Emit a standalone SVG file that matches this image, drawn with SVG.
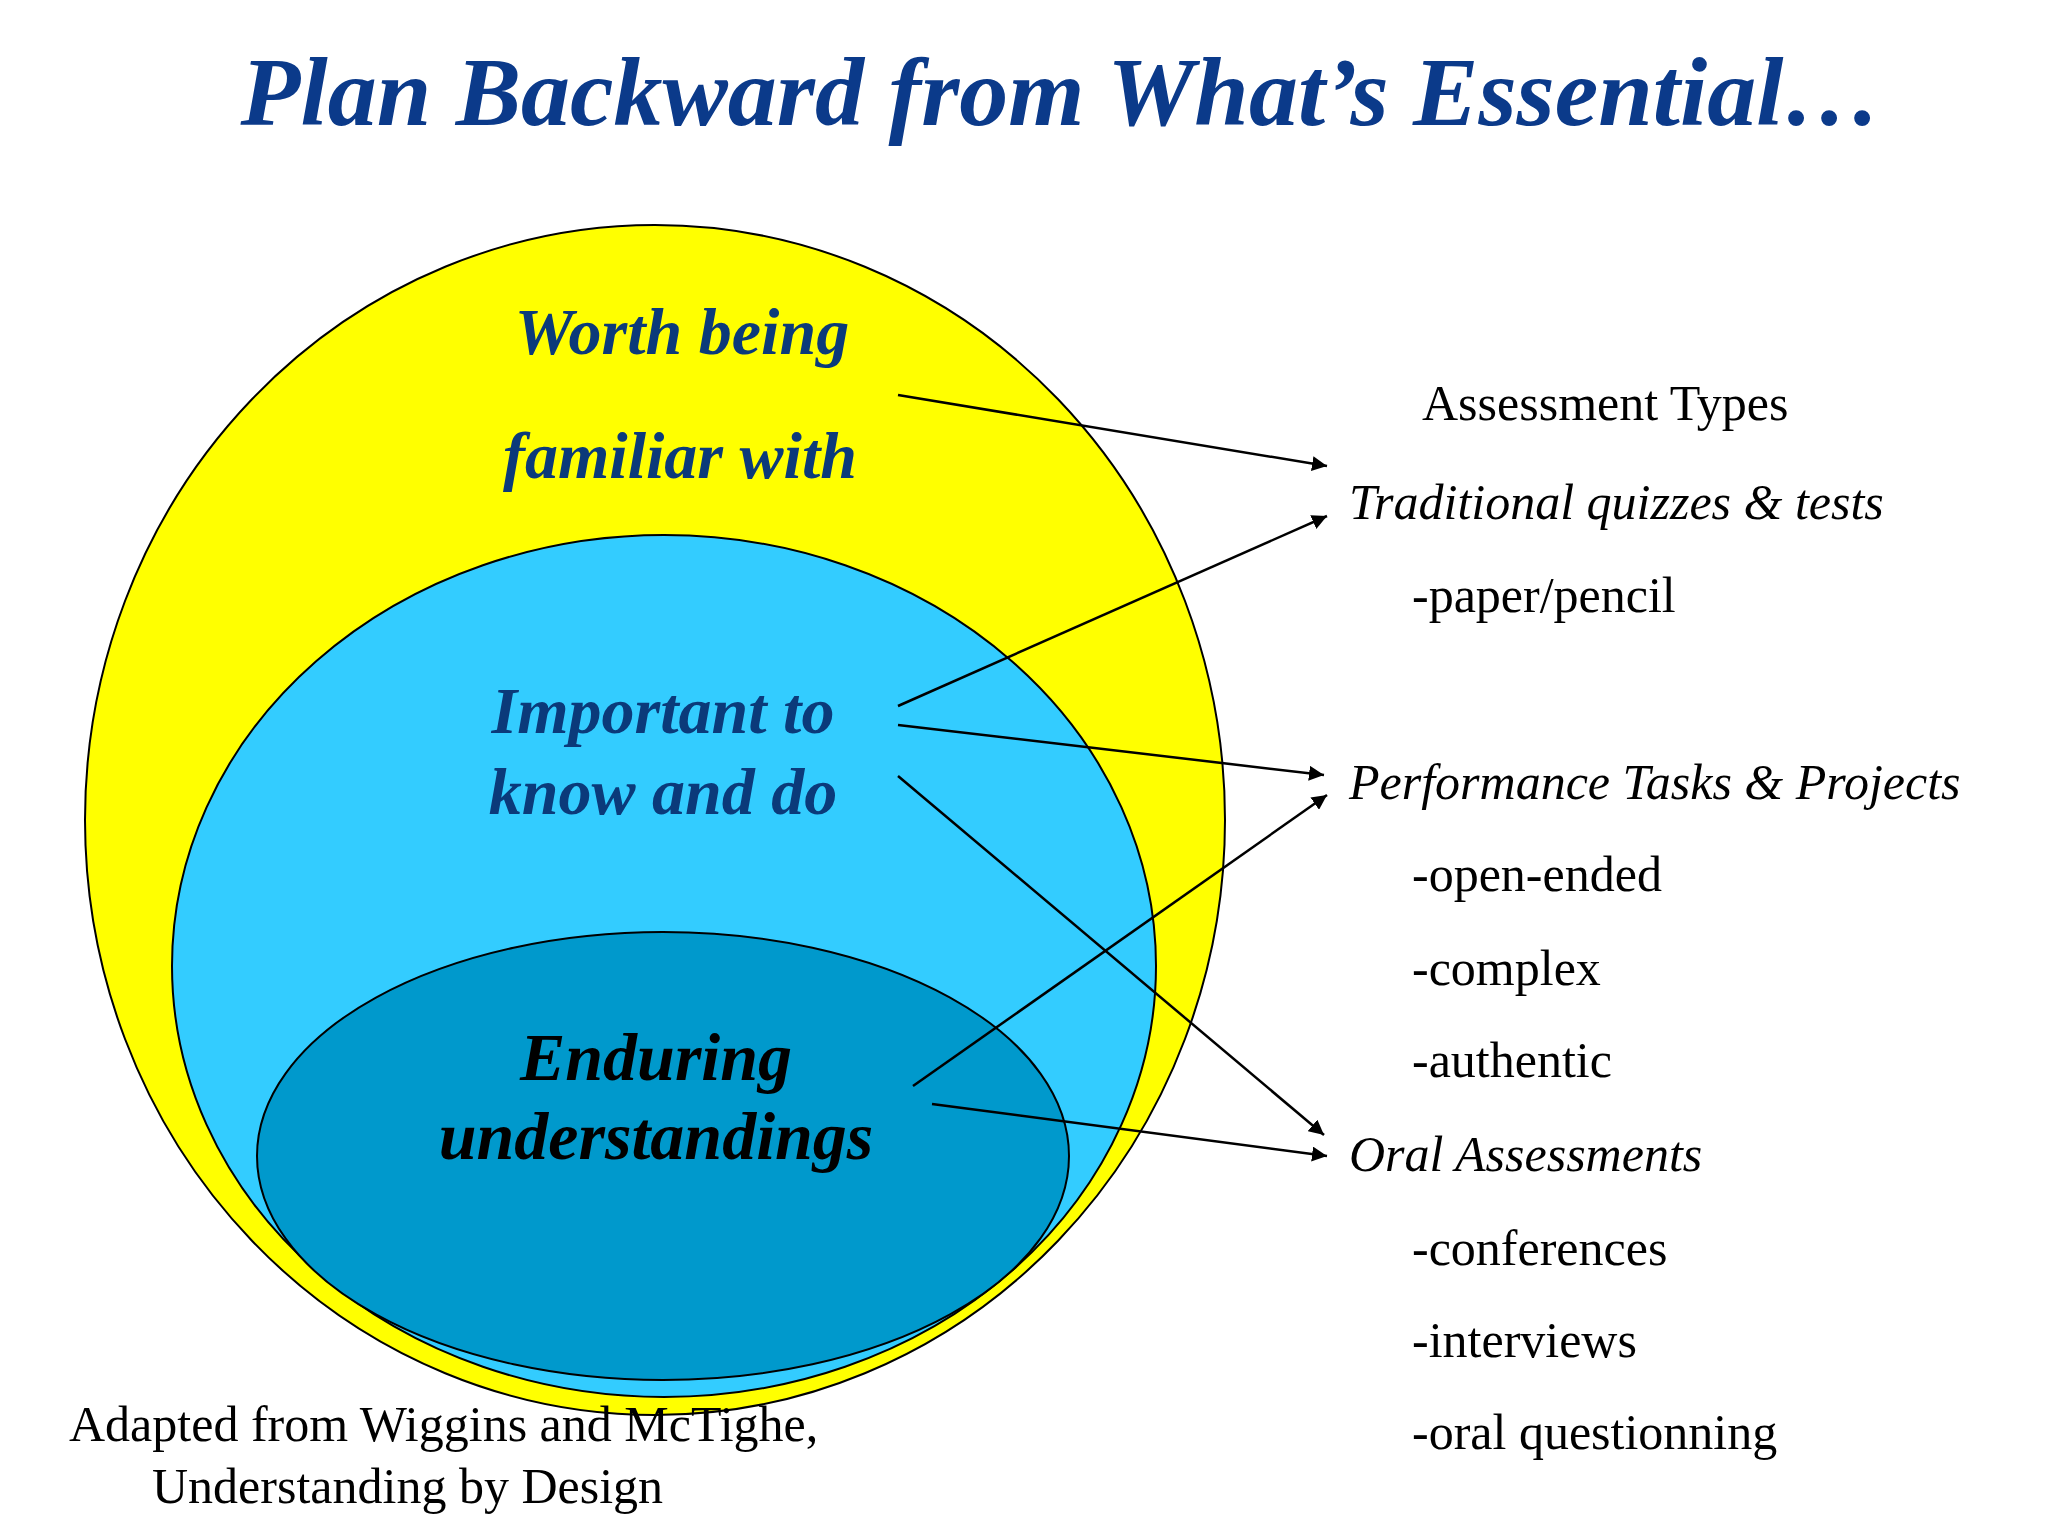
<svg xmlns="http://www.w3.org/2000/svg" width="2048" height="1536" viewBox="0 0 2048 1536">
<defs>
<style>
.h{font-family:"Liberation Serif",serif;font-weight:bold;font-style:italic;text-anchor:middle}
.r{font-family:"Liberation Serif",serif;font-size:50px;fill:#000}
.i{font-style:italic}
.c{stroke:#000;stroke-width:2.5;fill:none;marker-end:url(#a)}
</style>
<marker id="a" viewBox="0 0 10 10" refX="10" refY="5" markerWidth="6" markerHeight="6" orient="auto"><path d="M0,0L10,5L0,10z" fill="#000"/></marker>
</defs>
<rect width="2048" height="1536" fill="#fff"/>
<text class="h" x="1061" y="125" font-size="98" fill="#0b3a8a">Plan Backward from What’s Essential…</text>
<g id="worth"><ellipse cx="655" cy="820" rx="570" ry="595" fill="#ffff00" stroke="#000" stroke-width="2"/>
<text class="h" x="682" y="354" font-size="66" fill="#0b3a7a">Worth being</text>
<text class="h" x="680" y="478" font-size="66" fill="#0b3a7a">familiar with</text></g>
<g id="important"><ellipse cx="664" cy="966" rx="492" ry="431" fill="#33ccff" stroke="#000" stroke-width="2"/>
<text class="h" x="663" y="733" font-size="66" fill="#0b3a7a">Important to</text>
<text class="h" x="663" y="814" font-size="66" fill="#0b3a7a">know and do</text></g>
<g id="enduring"><ellipse cx="663" cy="1156" rx="406" ry="224" fill="#0099cc" stroke="#000" stroke-width="2"/>
<text class="h" x="656" y="1080" font-size="68" fill="#000">Enduring</text>
<text class="h" x="656" y="1159" font-size="68" fill="#000">understandings</text></g>
<g id="types">
<text class="r" x="1422" y="420" font-size="62">Assessment Types</text>
<text class="r i" x="1349" y="519">Traditional quizzes &amp; tests</text>
<text class="r" x="1412" y="612">-paper/pencil</text>
<text class="r i" x="1349" y="799">Performance Tasks &amp; Projects</text>
<text class="r" x="1412" y="891">-open-ended</text>
<text class="r" x="1412" y="985">-complex</text>
<text class="r" x="1412" y="1077">-authentic</text>
<text class="r i" x="1349" y="1171">Oral Assessments</text>
<text class="r" x="1412" y="1265">-conferences</text>
<text class="r" x="1412" y="1357">-interviews</text>
<text class="r" x="1412" y="1449">-oral questionning</text>
</g>
<g id="credit">
<text class="r" x="69" y="1441" font-size="32">Adapted from Wiggins and McTighe,</text>
<text class="r" x="152" y="1503" font-size="32">Understanding by Design</text>
</g>
<g id="connectors">
<line class="c" x1="898" y1="395" x2="1327" y2="466"/>
<line class="c" x1="898" y1="706" x2="1327" y2="516"/>
<line class="c" x1="898" y1="725" x2="1324" y2="775"/>
<line class="c" x1="898" y1="776" x2="1324" y2="1135"/>
<line class="c" x1="913" y1="1086" x2="1327" y2="795"/>
<line class="c" x1="932" y1="1104" x2="1327" y2="1156"/>
</g>
</svg>
